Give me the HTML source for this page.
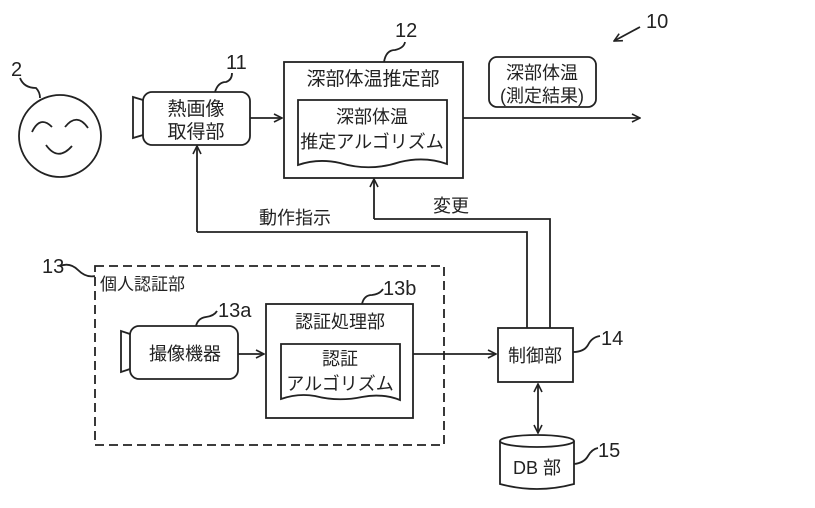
<!DOCTYPE html>
<html><head><meta charset="utf-8"><style>
html,body{margin:0;padding:0;background:#fff;}
svg{display:block;}
text{font-family:"Liberation Sans","Noto Sans CJK JP",sans-serif;fill:#222;}
</style></head><body>
<svg width="815" height="508" viewBox="0 0 815 508" xmlns="http://www.w3.org/2000/svg">
<defs>
<marker id="a" markerWidth="10" markerHeight="10" refX="9" refY="5" orient="auto" markerUnits="userSpaceOnUse">
<path d="M1,1 L9,5 L1,9" fill="none" stroke="#222" stroke-width="1.6"/>
</marker>
<marker id="as" markerWidth="10" markerHeight="10" refX="1" refY="5" orient="auto" markerUnits="userSpaceOnUse">
<path d="M9,1 L1,5 L9,9" fill="none" stroke="#222" stroke-width="1.6"/>
</marker>
</defs>
<g stroke="#222" stroke-width="1.8" fill="none">
<circle cx="60" cy="136" r="41"/>
<path d="M32,132 Q40,115 52,127"/>
<path d="M65,127 Q77,112 88,128"/>
<path d="M46,145 Q58,162 72,146"/>
<path d="M20,78 Q24,88 36,88 Q40,92 40,98"/>
<rect x="143" y="92" width="107" height="53" rx="9"/>
<path d="M143,100 L133,97 L133,138 L143,135"/>
<path d="M215,92 Q218,82 226,82 Q232,80 232,73"/>
<line x1="250" y1="118" x2="282" y2="118" marker-end="url(#a)"/>
<rect x="284" y="62" width="179" height="116"/>
<path d="M298,100 L447,100 L447,164 Q425,156 400,162 Q370,172 340,163 Q318,158 298,165 Z"/>
<path d="M384,62 Q386,50 395,50 Q404,48 405,42"/>
<line x1="463" y1="118" x2="640" y2="118" marker-end="url(#a)"/>
<rect x="489" y="57" width="107" height="50" rx="8"/>
<line x1="640" y1="27" x2="614" y2="41" marker-end="url(#a)"/>
<line x1="197" y1="232" x2="197" y2="146" marker-end="url(#a)"/>
<polyline points="197,232 527,232 527,328"/>
<line x1="374" y1="219" x2="374" y2="179" marker-end="url(#a)"/>
<polyline points="374,219 550,219 550,328"/>
<rect x="95" y="266" width="349" height="179" stroke-dasharray="9,5"/>
<path d="M60,266 Q70,262 78,270 Q86,278 95,276"/>
<rect x="130" y="326" width="108" height="53" rx="9"/>
<path d="M130,334 L121,331 L121,372 L130,369"/>
<path d="M196,326 Q198,318 206,317 Q214,316 217,311"/>
<line x1="238" y1="354" x2="264" y2="354" marker-end="url(#a)"/>
<rect x="266" y="304" width="147" height="114"/>
<path d="M281,344 L400,344 L400,400 Q382,393 362,397 Q338,402 315,396 Q298,393 281,399 Z"/>
<path d="M362,304 Q364,295 372,295 Q380,294 383,289"/>
<line x1="413" y1="354" x2="496" y2="354" marker-end="url(#a)"/>
<rect x="498" y="328" width="75" height="54"/>
<path d="M573,352 Q584,352 588,345 Q592,337 600,336"/>
<line x1="538" y1="384" x2="538" y2="433" marker-start="url(#as)" marker-end="url(#a)"/>
<path d="M500,441 L500,484 Q537,494 574,484 L574,441"/>
<ellipse cx="537" cy="441" rx="37" ry="6"/>
<path d="M574,464 Q584,463 588,456 Q592,449 598,448"/>
</g>
<g font-size="18">
<text x="11" y="76" font-size="20">2</text>
<text x="226" y="69" font-size="20">11</text>
<text x="395" y="37" font-size="20">12</text>
<text x="646" y="28" font-size="20">10</text>
<text x="42" y="273" font-size="20">13</text>
<text x="218" y="317" font-size="20">13a</text>
<text x="383" y="295" font-size="20">13b</text>
<text x="601" y="345" font-size="20">14</text>
<text x="598" y="457" font-size="20">15</text>
<text x="196" y="115" text-anchor="middle" font-size="19">熱画像</text>
<text x="196" y="138" text-anchor="middle" font-size="19">取得部</text>
<text x="373" y="85" text-anchor="middle" font-size="19">深部体温推定部</text>
<text x="372" y="123" text-anchor="middle">深部体温</text>
<text x="372" y="148" text-anchor="middle">推定アルゴリズム</text>
<text x="542" y="79" text-anchor="middle">深部体温</text>
<text x="542" y="102" text-anchor="middle">(測定結果)</text>
<text x="259" y="224">動作指示</text>
<text x="433" y="212">変更</text>
<text x="100" y="290" font-size="17">個人認証部</text>
<text x="185" y="360" text-anchor="middle">撮像機器</text>
<text x="340" y="328" text-anchor="middle">認証処理部</text>
<text x="340" y="365" text-anchor="middle">認証</text>
<text x="340" y="390" text-anchor="middle">アルゴリズム</text>
<text x="535" y="362" text-anchor="middle">制御部</text>
<text x="537" y="474" text-anchor="middle">DB 部</text>
</g>
</svg>
</body></html>
